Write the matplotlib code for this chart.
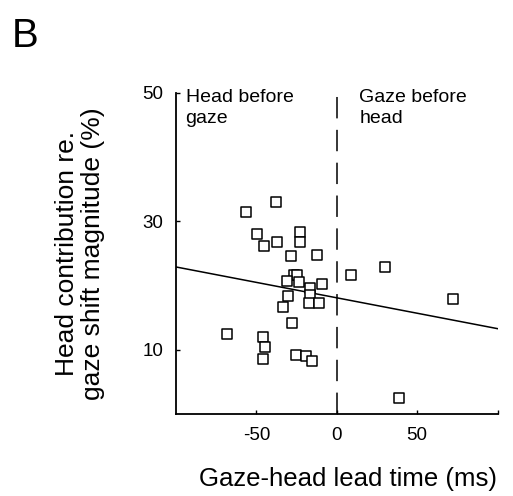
import matplotlib
matplotlib.use('Agg')
import matplotlib.pyplot as plt

plt.rcParams['font.family'] = ['Liberation Sans', 'DejaVu Sans']

# lead time (ms) and head contribution (%)
lead_time = [-37.8, -56.2, -49.6, -37.1, -45.4, -23.0, -22.6, -28.2, -12.0,
             8.9, 29.9, -26.6, -24.9, -31.1, -23.3, -8.9, -16.6, -16.6,
             -17.0, -11.0, -30.1, -33.2, 72.0, -27.6, -68.3, -45.6, -44.8,
             -45.6, -25.1, -18.9, -15.4, 38.4]
head_contrib = [33.0, 31.5, 28.1, 26.8, 26.1, 28.3, 26.8, 24.6, 24.8,
                21.6, 22.9, 21.6, 21.6, 20.7, 20.5, 20.3, 19.7, 18.5,
                17.3, 17.3, 18.4, 16.6, 17.9, 14.2, 12.5, 12.0, 10.5,
                8.6, 9.2, 9.0, 8.2, 2.5]

# regression line
fit_x = [-100, 100]
fit_y = [22.9, 13.3]

x_ticks = [-50, 0, 50, 100]
x_ticklabels = ['-50', '0', '50', '']
y_ticks = [10, 30, 50]

fig = plt.figure(figsize=(5.13, 4.96), dpi=100)
ax = fig.add_axes([0.343, 0.165, 0.627, 0.648])

ax.scatter(lead_time, head_contrib, marker='s', s=44, facecolors='white',
           edgecolors='black', linewidths=1.1, zorder=3)
ax.plot(fit_x, fit_y, color='black', lw=1.1, zorder=2)
ax.plot([0, 0], [0, 50], color='black', lw=1.1, dashes=(14, 7.5), zorder=1)

ax.set_xlim(-100, 100)
ax.set_ylim(0, 50)
ax.set_xticks(x_ticks)
ax.set_xticklabels(x_ticklabels)
ax.set_yticks(y_ticks)
ax.tick_params(direction='in', length=3, width=1, labelsize=13.5, pad=9)

for s in ['top', 'right']:
    ax.spines[s].set_visible(False)
for s in ['left', 'bottom']:
    ax.spines[s].set_linewidth(1.3)

ax.text(-94, 50.6, 'Head before\ngaze', fontsize=14, va='top', ha='left',
        linespacing=1.3)
ax.text(14, 50.6, 'Gaze before\nhead', fontsize=14, va='top', ha='left',
        linespacing=1.3)

ax.set_xlabel('Gaze-head lead time (ms)', fontsize=18.5)
ax.xaxis.set_label_coords(0.535, -0.165)
ax.set_ylabel('Head contribution re.\ngaze shift magnitude (%)', fontsize=19,
              linespacing=1.1)
ax.yaxis.set_label_coords(-0.22, 0.5)

fig.text(0.023, 0.905, 'B', fontsize=29)

plt.savefig('out.png', dpi=100)
